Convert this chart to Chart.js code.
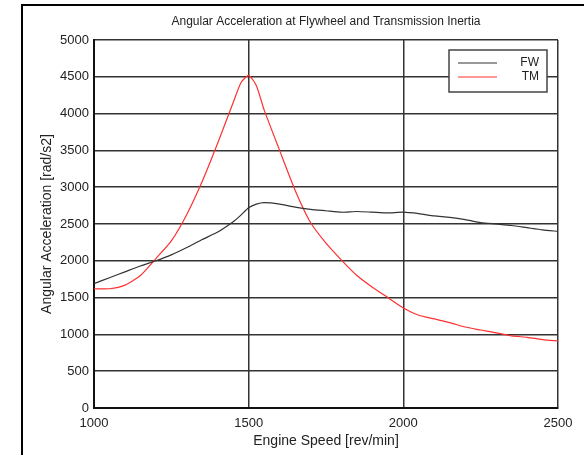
<!DOCTYPE html>
<html>
<head>
<meta charset="utf-8">
<script src="https://cdn.jsdelivr.net/npm/chart.js@4.4.0/dist/chart.umd.min.js"></script>
<style>
  html, body { margin: 0; padding: 0; background: #fff; }
  #myChart { display: block; }
</style>
</head>
<body>
<canvas id="myChart" width="584" height="455"></canvas>
<script>
// engine speed [rev/min]
const rpm = [1000, 1050, 1100, 1150, 1200, 1250, 1300, 1350, 1400, 1450, 1475, 1500, 1525, 1550,
    1600, 1650, 1700, 1750, 1800, 1850, 1900, 1950, 2000, 2050, 2100, 2150, 2200, 2250, 2300,
    2350, 2400, 2450, 2500];

// flywheel
const fwValues = [1690, 1770, 1850, 1930, 2000, 2080, 2180, 2290, 2390, 2530, 2620, 2720, 2770, 2790,
    2770, 2730, 2700, 2680, 2660, 2670, 2660, 2650, 2660, 2640, 2610, 2590, 2560, 2520, 2500,
    2480, 2450, 2420, 2400];

// transmission
const tmValues = [1620, 1620, 1670, 1800, 2030, 2270, 2630, 3080, 3600, 4150, 4420, 4520, 4380, 4050,
    3500, 2960, 2520, 2240, 2010, 1800, 1640, 1500, 1360, 1260, 1210, 1160, 1100, 1060, 1020,
    980, 960, 930, 910];

const xTicks = [1000, 1500, 2000, 2500];
const yTicks = [0, 500, 1000, 1500, 2000, 2500, 3000, 3500, 4000, 4500, 5000];

const font = 'Liberation Sans, Arial, sans-serif';

function toPoints(values) {
    return values.map((v, i) => ({ x: rpm[i], y: v }));
}

// outer figure frame + matlab style legend box
const framePlugin = {
    id: 'frame',
    afterDraw(chart) {
        const ctx = chart.ctx;
        ctx.save();
        ctx.strokeStyle = '#000';
        ctx.lineWidth = 2;
        ctx.beginPath();
        ctx.moveTo(22, 455);
        ctx.lineTo(22, 5);
        ctx.lineTo(584, 5);
        ctx.stroke();

        // legend
        const bx = 449, by = 50, bw = 98, bh = 42;
        ctx.fillStyle = '#fff';
        ctx.fillRect(bx, by, bw, bh);
        ctx.strokeStyle = '#444';
        ctx.lineWidth = 1.5;
        ctx.strokeRect(bx, by, bw, bh);
        ctx.font = '12px ' + font;
        ctx.textAlign = 'right';
        ctx.textBaseline = 'middle';
        chart.data.datasets.forEach((ds, i) => {
            const y = by + 13 + i * 14;
            ctx.strokeStyle = ds.borderColor;
            ctx.lineWidth = 1.2;
            ctx.beginPath();
            ctx.moveTo(458, y);
            ctx.lineTo(497, y);
            ctx.stroke();
            ctx.fillStyle = '#222';
            ctx.fillText(ds.label, 539, y);
        });
        ctx.restore();
    }
};

const ctx = document.getElementById('myChart');

new Chart(ctx, {
    type: 'line',
    data: {
        datasets: [{
            label: 'FW',
            data: toPoints(fwValues),
            borderColor: '#333333',
            borderWidth: 1.2,
            pointRadius: 0,
            tension: 0.2
        }, {
            label: 'TM',
            data: toPoints(tmValues),
            borderColor: '#ff3030',
            borderWidth: 1.2,
            pointRadius: 0,
            tension: 0.2
        }]
    },
    options: {
        responsive: false,
        animation: false,
        layout: {
            padding: { left: 22, right: 26, top: 0, bottom: 0 }
        },
        plugins: {
            legend: { display: false },
            tooltip: { enabled: false },
            title: {
                display: true,
                fullSize: false,
                text: 'Angular Acceleration at Flywheel and Transmission Inertia',
                color: '#222',
                font: { family: font, size: 12, weight: 'normal' },
                padding: { top: 14, bottom: 11.6 }
            }
        },
        scales: {
            x: {
                type: 'linear',
                min: 1000,
                max: 2500,
                afterBuildTicks: (axis) => { axis.ticks = xTicks.map(v => ({ value: v })); },
                afterFit: (axis) => { axis.height = 47; },
                grid: { color: '#333', lineWidth: 1.5, drawTicks: false },
                border: { color: '#111', width: 2 },
                ticks: {
                    color: '#222',
                    padding: 8,
                    maxRotation: 0,
                    font: { family: font, size: 13 },
                    callback: (v) => String(v)
                },
                title: {
                    display: true,
                    text: 'Engine Speed [rev/min]',
                    color: '#222',
                    font: { family: font, size: 14 },
                    padding: { top: 0, bottom: 5 }
                }
            },
            y: {
                min: 0,
                max: 5000,
                afterBuildTicks: (axis) => { axis.ticks = yTicks.map(v => ({ value: v })); },
                afterFit: (axis) => { axis.width = 72; },
                grid: { color: '#333', lineWidth: 1.5, drawTicks: false },
                border: { color: '#111', width: 2 },
                ticks: {
                    color: '#222',
                    padding: 5,
                    font: { family: font, size: 13 },
                    callback: (v) => String(v)
                },
                title: {
                    display: true,
                    text: 'Angular Acceleration [rad/s2]',
                    color: '#222',
                    font: { family: font, size: 14 },
                    padding: { top: 16.5, bottom: 0 }
                }
            }
        }
    },
    plugins: [framePlugin]
});
</script>
</body>
</html>
